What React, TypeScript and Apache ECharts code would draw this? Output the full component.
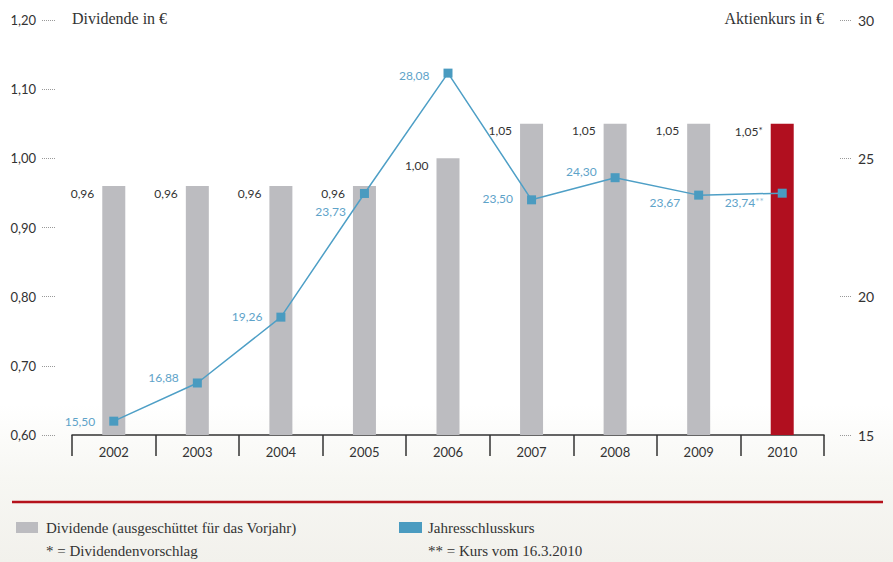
import React, { useEffect, useRef } from "react";
import * as echarts from "echarts";

const years = ["2002", "2003", "2004", "2005", "2006", "2007", "2008", "2009", "2010"];
const dividends = [0.96, 0.96, 0.96, 0.96, 1.0, 1.05, 1.05, 1.05, 1.05];
const closingPrices = [15.5, 16.88, 19.26, 23.73, 28.08, 23.5, 24.3, 23.67, 23.74];
const priceLabelDy = [0, -5, -1, 18, 2, -1, -6, 7, 9];
const leftTicks = [0.6, 1.2, 0.1];
const rightTicks = [15, 30, 5];

const NUM_FONT = "Lato, 'DejaVu Sans', sans-serif";
const SERIF = "'Liberation Serif', 'DejaVu Serif', serif";
const fmt = (v: number) => v.toFixed(2).replace(".", ",");

export default function App() {
  const ref = useRef<HTMLDivElement>(null);
  useEffect(() => {
    if (!ref.current) return;
    const chart = echarts.init(ref.current, null, { renderer: "svg" });
    const barData = dividends.map((v, i) => ({
      value: v,
      itemStyle: { color: i === dividends.length - 1 ? "#b10f1f" : "#bcbcc0" },
    }));
    const lineData = closingPrices.map((v, i) => ({
      value: v,
      label: { offset: [0, priceLabelDy[i]] },
    }));
    chart.setOption({
      animation: false,
      textStyle: { fontFamily: NUM_FONT },
      grid: { left: 72, right: 69, top: 20, bottom: 127 },
      legend: [
        {
          data: ["Dividende (ausgeschüttet für das Vorjahr)"],
          left: 11,
          top: 515,
          icon: "rect",
          itemWidth: 22,
          itemHeight: 11,
          textStyle: { fontFamily: SERIF, fontSize: 15, color: "#333", padding: [0, 0, 0, 3] },
        },
        {
          data: ["Jahresschlusskurs"],
          left: 394,
          top: 515,
          icon: "rect",
          itemWidth: 23,
          itemHeight: 11,
          textStyle: { fontFamily: SERIF, fontSize: 15, color: "#333", padding: [0, 0, 0, 1] },
        },
      ],
      xAxis: {
        type: "category",
        data: years,
        axisLine: { lineStyle: { color: "#333", width: 1.5 } },
        axisTick: { show: true, length: 21, lineStyle: { color: "#333", width: 1.5 } },
        axisLabel: { margin: 10, color: "#333", fontSize: 13, fontFamily: NUM_FONT },
      },
      yAxis: [
        {
          type: "value",
          min: leftTicks[0],
          max: leftTicks[1],
          interval: leftTicks[2],
          position: "left",
          offset: 17,
          splitLine: { show: false },
          axisLine: { show: false },
          axisTick: { show: true, length: 13, lineStyle: { color: "#999", type: [1, 1], width: 1 } },
          axisLabel: { margin: 19, color: "#333", fontSize: 13, formatter: (v: number) => fmt(v) },
        },
        {
          type: "value",
          min: rightTicks[0],
          max: rightTicks[1],
          interval: rightTicks[2],
          position: "right",
          offset: 16,
          splitLine: { show: false },
          axisLine: { show: false },
          axisTick: { show: true, length: 12, lineStyle: { color: "#999", type: [1, 1], width: 1 } },
          axisLabel: { margin: 18, color: "#333", fontSize: 14 },
        },
      ],
      series: [
        {
          name: "Dividende (ausgeschüttet für das Vorjahr)",
          type: "bar",
          yAxisIndex: 0,
          barWidth: 23,
          data: barData,
          itemStyle: { color: "#bcbcc0" },
          label: {
            show: true,
            position: [-8, 1],
            align: "right",
            verticalAlign: "top",
            color: "#333",
            fontSize: 12,
            fontFamily: NUM_FONT,
            formatter: (p: any) => fmt(p.value) + (p.dataIndex === dividends.length - 1 ? "{s|*}" : ""),
            rich: { s: { fontSize: 10, verticalAlign: "top", color: "#333", padding: [0, 0, 3, 0] } },
          },
          z: 2,
        },
        {
          name: "Jahresschlusskurs",
          type: "line",
          yAxisIndex: 1,
          data: lineData,
          symbol: "rect",
          symbolSize: 9,
          lineStyle: { color: "#4e9fc6", width: 1.5 },
          itemStyle: { color: "#4a9bc0" },
          label: {
            show: true,
            position: "left",
            distance: 14,
            color: "#5ea3c9",
            fontSize: 12,
            fontFamily: NUM_FONT,
            formatter: (p: any) => fmt(p.value) + (p.dataIndex === closingPrices.length - 1 ? "{s|**}" : ""),
            rich: { s: { fontSize: 10, color: "#8fbfd9", padding: [0, 0, 3, 0] } },
          },
          z: 3,
        },
      ],
      graphic: [
        {
          type: "text",
          left: 72,
          top: 10,
          style: { text: "Dividende in €", font: `16px ${SERIF}`, fill: "#333" },
        },
        {
          type: "text",
          right: 69,
          top: 10,
          style: { text: "Aktienkurs in €", font: `16px ${SERIF}`, fill: "#333" },
        },
        {
          type: "line",
          shape: { x1: 12, y1: 502, x2: 883, y2: 502 },
          style: { stroke: "#b5121b", lineWidth: 2.5 },
        },
        {
          type: "text",
          left: 46,
          top: 543,
          style: { text: "* = Dividendenvorschlag", font: `15px ${SERIF}`, fill: "#333" },
        },
        {
          type: "text",
          left: 428,
          top: 543,
          style: { text: "** = Kurs vom 16.3.2010", font: `15px ${SERIF}`, fill: "#333" },
        },
      ],
    });
    return () => chart.dispose();
  }, []);
  return (
    <div
      ref={ref}
      style={{
        position: "fixed",
        left: 0,
        top: 0,
        width: 893,
        height: 562,
        background: "linear-gradient(to bottom, #ffffff 0%, #ffffff 72%, #f7f7f3 85%, #f2f1ec 100%)",
      }}
    />
  );
}
